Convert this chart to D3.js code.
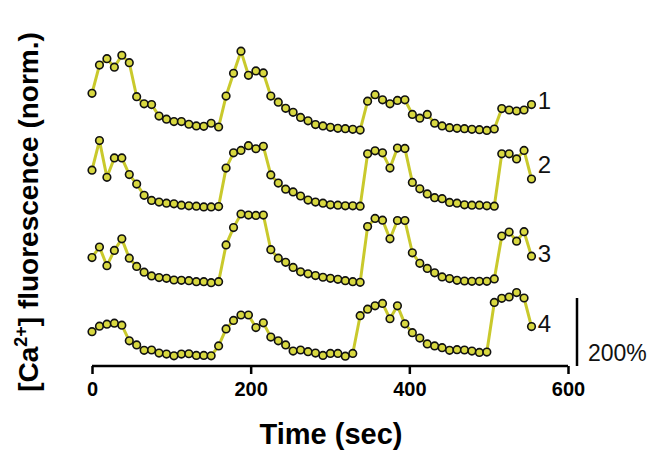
<!DOCTYPE html>
<html><head><meta charset="utf-8">
<script src="https://cdn.jsdelivr.net/npm/d3@7"></script>
<style>body{margin:0;background:#fff}svg{display:block;font-family:"Liberation Sans",Arial,sans-serif}</style>
</head><body><svg id="c" width="658" height="452"></svg>
<script>
const times = [0,9.4,18.8,28.2,37.6,47,56.3,65.7,75.1,84.5,93.9,103.3,112.7,122.1,131.5,140.9,150.2,159.6,169,178.4,187.8,197.2,206.6,216,225.4,234.8,244.1,253.5,262.9,272.3,281.7,291.1,300.5,309.9,319.3,328.7,338,347.4,356.8,366.2,375.6,385,394.4,403.8,413.2,422.6,431.9,441.3,450.7,460.1,469.5,478.9,488.3,497.7,507.1,516.5,525.8,535.2,544.6,554];
const cell1 = [142,225,244,219,254,232,132,111,109,75,66,59,59,51,46,45,54,43,134,201,266,195,208,202,134,116,98,86,71,61,50,46,42,39,38,36,34,119,138,123,111,121,123,80,69,80,54,46,41,39,38,36,35,33,37,97,93,90,93,109];
const cell2 = [136,223,115,172,172,123,95,62,47,42,39,37,33,31,30,28,28,29,142,187,194,208,199,206,122,98,80,72,60,48,42,39,34,33,31,31,30,184,193,187,142,201,200,100,81,66,55,52,41,39,34,33,33,31,30,184,184,169,194,110];
const cell3 = [99,130,75,120,154,97,73,56,45,40,38,33,32,31,28,28,25,28,136,187,227,224,223,224,122,97,85,70,57,51,46,41,38,35,31,28,26,190,214,209,154,208,208,113,82,67,54,42,37,32,30,29,29,29,36,162,174,147,175,103];
const cell4 = [101,117,123,126,120,74,62,46,47,38,35,30,35,36,31,31,30,59,109,134,150,150,113,127,85,74,62,44,47,42,38,31,37,37,29,37,148,167,177,184,139,177,124,98,82,65,59,54,46,48,47,44,40,41,187,199,203,216,200,116];
const traceLabels = ["1","2","3","4"];
const offsets = [660,440,220,0];
const xTicks = [0,200,400,600];
const scaleBarValue = 200;
const scaleBarLabel = "200%";

const series = [cell1,cell2,cell3,cell4];
const svg = d3.select("#c");
const x = d3.scaleLinear().domain([0,600]).range([92,568]);
const y = d3.scaleLinear().domain([0,200]).range([366,298]);

const lineColor = "#c9c92c", fillColor = "#d8d840";
const line = d3.line().x((d,i)=>x(times[i])).y(d=>d.y);

series.forEach((vals,k)=>{
  const pts = vals.map(v=>({y:y(v+offsets[k])}));
  const g = svg.append("g");
  g.append("path").datum(pts).attr("d",line).attr("fill","none")
    .attr("stroke",lineColor).attr("stroke-width",3).attr("stroke-linejoin","round");
  g.selectAll("circle").data(pts).join("circle")
    .attr("cx",(d,i)=>x(times[i])).attr("cy",d=>d.y).attr("r",3.8)
    .attr("fill",fillColor).attr("stroke","#111").attr("stroke-width",1.6);
});

// trace labels
const labelLevels = [120,150,110,125];
svg.selectAll("text.tl").data(traceLabels).join("text").attr("class","tl")
  .attr("x",x(562)).attr("y",(d,i)=>y(labelLevels[i]+offsets[i])+8)
  .attr("font-size",24).attr("fill","#111").text(d=>d);

// x axis
const xAxis = d3.axisBottom(x).tickValues(xTicks).tickSize(8).tickPadding(8).tickFormat(d3.format("d"));
const ax = svg.append("g").attr("transform","translate(0,366)").call(xAxis);
ax.select(".domain").attr("stroke","#000").attr("stroke-width",2.5).attr("d","M92,0H568");
ax.selectAll(".tick line").attr("stroke","#000").attr("stroke-width",2.5);
ax.selectAll(".tick text").attr("font-size",20).attr("font-weight","bold").attr("fill","#000")
  .attr("font-family","'Liberation Sans',Arial,sans-serif");

svg.append("text").attr("x",331).attr("y",444).attr("text-anchor","middle")
  .attr("font-size",29).attr("font-weight","bold").text("Time (sec)");

// y label
const yl = svg.append("text").attr("transform","translate(38,212) rotate(-90)")
  .attr("text-anchor","middle").attr("font-size",28).attr("font-weight","bold");
yl.append("tspan").text("[Ca");
yl.append("tspan").attr("font-size",18).attr("dy",-11).text("2+");
yl.append("tspan").attr("dy",11).text("] fluorescence (norm.)");

// scale bar
svg.append("line").attr("x1",577).attr("x2",577).attr("y1",y(0)).attr("y2",y(scaleBarValue))
  .attr("stroke","#000").attr("stroke-width",2.5);
svg.append("text").attr("x",588).attr("y",y(0)-5).attr("font-size",23).attr("fill","#111").text(scaleBarLabel);
</script></body></html>
